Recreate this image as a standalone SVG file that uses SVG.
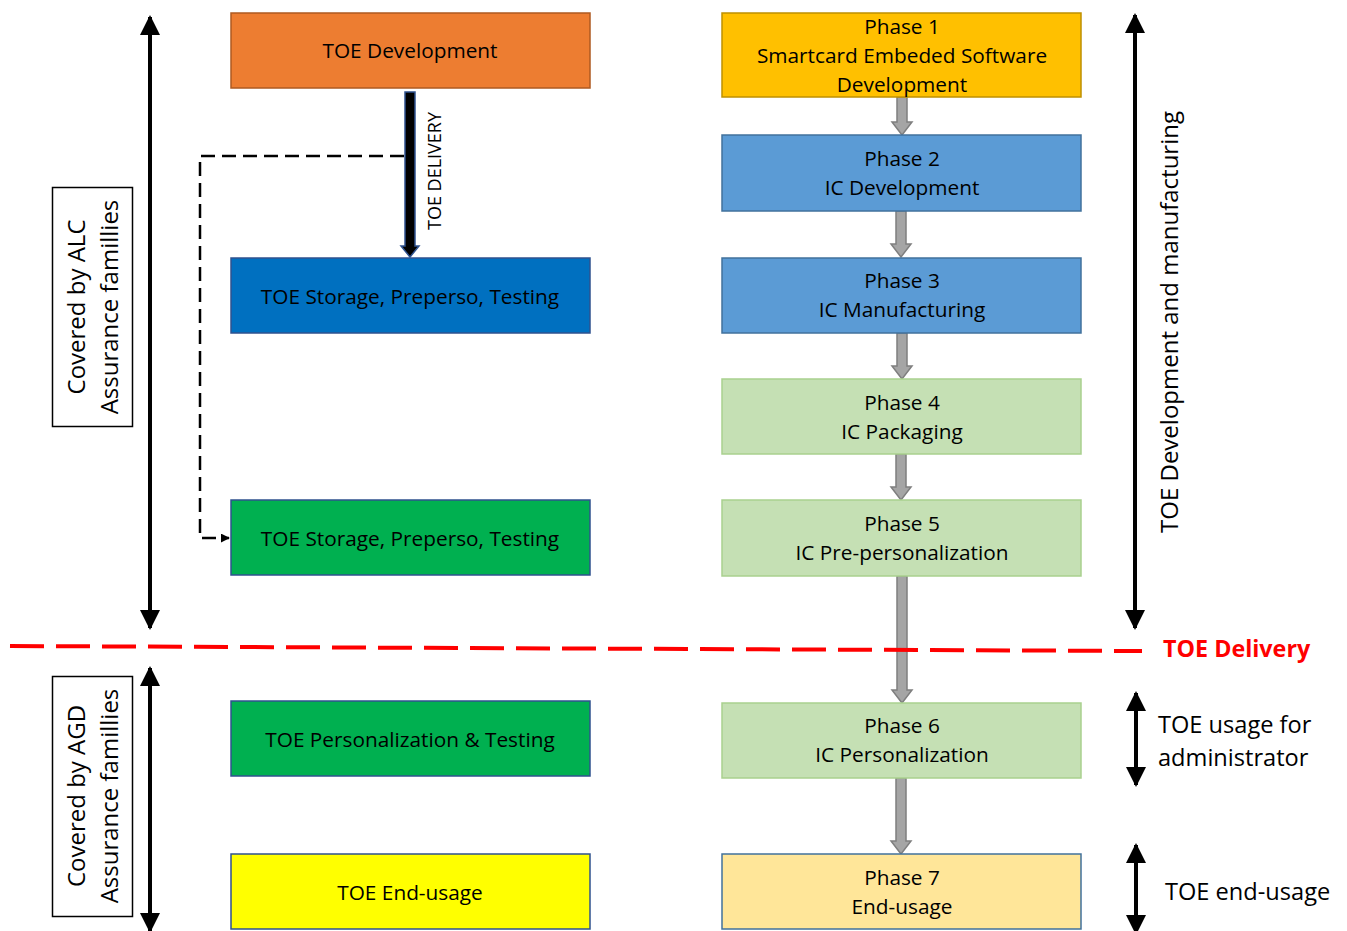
<svg xmlns="http://www.w3.org/2000/svg" width="1347" height="931" viewBox="0 0 1347 931">
<defs>
<style>
.t{font-family:"Open Sans","Noto Sans",sans-serif;font-size:20.8px;fill:#000;text-anchor:middle}
.lbl{font-family:"Open Sans","Noto Sans",sans-serif;font-size:23.6px;fill:#000}
.rot{font-family:"Open Sans","Noto Sans",sans-serif;font-size:24px;fill:#000;text-anchor:middle}
.ga{fill:#A5A5A5;stroke:#7F7F7F;stroke-width:1.5}
.dbl{stroke:#000;stroke-width:4;fill:none}
</style>
<marker id="ah" viewBox="0 0 10 10" refX="9" refY="5" markerWidth="5" markerHeight="5" orient="auto-start-reverse" markerUnits="strokeWidth">
<path d="M0,0 L10,5 L0,10 z" fill="#000"/>
</marker>
<marker id="ad" viewBox="0 0 10 10" refX="9" refY="5" markerWidth="9" markerHeight="9" orient="auto" markerUnits="userSpaceOnUse">
<path d="M0,0 L10,5 L0,10 z" fill="#000"/>
</marker>
</defs>
<rect width="1347" height="931" fill="#fff"/>

<g id="connectors">
<path class="ga" d="M897,97 h10 v25 h5 l-10,13 l-10,-13 h5 z"/>
<path class="ga" d="M896,211 h10 v33 h5 l-10,13 l-10,-13 h5 z"/>
<path class="ga" d="M897,333 h10 v33 h5 l-10,13 l-10,-13 h5 z"/>
<path class="ga" d="M896,454 h10 v33 h5 l-10,13 l-10,-13 h5 z"/>
<path class="ga" d="M897,576 h10 v114 h5 l-10,13 l-10,-13 h5 z"/>
<path class="ga" d="M896,778 h10 v63 h5 l-10,13 l-10,-13 h5 z"/>
<path d="M405,92 h10 v154 h4 l-9,11 l-9,-11 h4 z" fill="#000" stroke="#2F528F" stroke-width="1.5"/>
<text class="t" style="font-size:18px" transform="translate(441,171) rotate(-90)">TOE DELIVERY</text>
<path d="M404,156 H200 V538 H229" fill="none" stroke="#000" stroke-width="2.5" stroke-dasharray="14,7" marker-end="url(#ad)"/>
<line x1="10" y1="646" x2="1142" y2="651" stroke="#FF0000" stroke-width="4" stroke-dasharray="34,12"/>
<text x="1163" y="657" font-family="'Open Sans','Noto Sans',sans-serif" font-size="23.3" font-weight="bold" fill="#FF0000">TOE Delivery</text>
<line class="dbl" x1="150" y1="17" x2="150" y2="628" marker-start="url(#ah)" marker-end="url(#ah)"/>
<line class="dbl" x1="150" y1="668" x2="150" y2="931" marker-start="url(#ah)" marker-end="url(#ah)"/>
<line class="dbl" x1="1135" y1="15" x2="1135" y2="628" marker-start="url(#ah)" marker-end="url(#ah)"/>
<line class="dbl" x1="1136" y1="693" x2="1136" y2="785" marker-start="url(#ah)" marker-end="url(#ah)"/>
<line class="dbl" x1="1136" y1="845" x2="1136" y2="933" marker-start="url(#ah)" marker-end="url(#ah)"/>
</g>

<g id="alc">
<rect x="52.5" y="187.5" width="80" height="239" fill="#fff" stroke="#000" stroke-width="1.5"/>
<text class="rot" transform="translate(85,307) rotate(-90)">Covered by ALC</text>
<text class="rot" transform="translate(118,307) rotate(-90)">Assurance famillies</text>
</g>
<g id="agd">
<rect x="52.5" y="676.5" width="80" height="240" fill="#fff" stroke="#000" stroke-width="1.5"/>
<text class="rot" transform="translate(85,796) rotate(-90)">Covered by AGD</text>
<text class="rot" transform="translate(118,796) rotate(-90)">Assurance famillies</text>
</g>
<g id="devman">
<text class="rot" transform="translate(1178,322) rotate(-90)">TOE Development  and manufacturing</text>
</g>
<g id="usage-admin">
<text class="lbl" x="1158" y="733">TOE usage for</text>
<text class="lbl" x="1158" y="766">administrator</text>
</g>
<g id="usage-end">
<text class="lbl" x="1165" y="900">TOE end-usage</text>
</g>

<g id="toe-dev">
<rect x="231" y="13" width="359" height="75" fill="#ED7D31" stroke="#AE5A21" stroke-width="1.5"/>
<text class="t" x="410" y="58">TOE Development</text>
</g>
<g id="toe-storage1">
<rect x="231" y="258" width="359" height="75" fill="#0070C0" stroke="#2F528F" stroke-width="1.5"/>
<text class="t" x="410" y="304">TOE Storage, Preperso, Testing</text>
</g>
<g id="toe-storage2">
<rect x="231" y="500" width="359" height="75" fill="#00B050" stroke="#2F528F" stroke-width="1.5"/>
<text class="t" x="410" y="546">TOE Storage, Preperso, Testing</text>
</g>
<g id="toe-perso">
<rect x="231" y="701" width="359" height="75" fill="#00B050" stroke="#2F528F" stroke-width="1.5"/>
<text class="t" x="410" y="747">TOE Personalization &amp; Testing</text>
</g>
<g id="toe-end">
<rect x="231" y="854" width="359" height="75" fill="#FFFF00" stroke="#2F528F" stroke-width="1.5"/>
<text class="t" x="410" y="900">TOE End-usage</text>
</g>

<g id="phase1">
<rect x="722" y="13" width="359" height="84" fill="#FFC000" stroke="#BF9000" stroke-width="1.5"/>
<text class="t" x="902" y="34">Phase 1</text>
<text class="t" x="902" y="63">Smartcard Embeded Software</text>
<text class="t" x="902" y="92">Development</text>
</g>
<g id="phase2">
<rect x="722" y="135" width="359" height="76" fill="#5B9BD5" stroke="#41719C" stroke-width="1.5"/>
<text class="t" x="902" y="166">Phase 2</text>
<text class="t" x="902" y="195">IC Development</text>
</g>
<g id="phase3">
<rect x="722" y="258" width="359" height="75" fill="#5B9BD5" stroke="#41719C" stroke-width="1.5"/>
<text class="t" x="902" y="288">Phase 3</text>
<text class="t" x="902" y="317">IC Manufacturing</text>
</g>
<g id="phase4">
<rect x="722" y="379" width="359" height="75" fill="#C5E0B4" stroke="#A9D18E" stroke-width="1.5"/>
<text class="t" x="902" y="410">Phase 4</text>
<text class="t" x="902" y="439">IC Packaging</text>
</g>
<g id="phase5">
<rect x="722" y="500" width="359" height="76" fill="#C5E0B4" stroke="#A9D18E" stroke-width="1.5"/>
<text class="t" x="902" y="531">Phase 5</text>
<text class="t" x="902" y="560">IC Pre-personalization</text>
</g>
<g id="phase6">
<rect x="722" y="703" width="359" height="75" fill="#C5E0B4" stroke="#A9D18E" stroke-width="1.5"/>
<text class="t" x="902" y="733">Phase 6</text>
<text class="t" x="902" y="762">IC Personalization</text>
</g>
<g id="phase7">
<rect x="722" y="854" width="359" height="75" fill="#FFE699" stroke="#41719C" stroke-width="1.5"/>
<text class="t" x="902" y="885">Phase 7</text>
<text class="t" x="902" y="914">End-usage</text>
</g>
</svg>
